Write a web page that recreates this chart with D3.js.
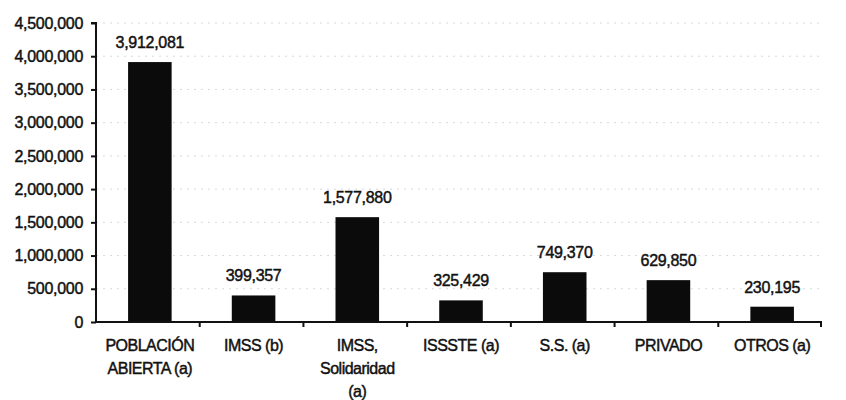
<!DOCTYPE html>
<html><head><meta charset="utf-8">
<script src="https://cdn.jsdelivr.net/npm/d3@7"></script>
<style>body{margin:0;background:#fff}svg{display:block}text{font-family:Arial,"Liberation Sans",sans-serif;fill:#111;stroke:#111;stroke-width:0.45px}</style>
</head><body>
<svg id="c" width="846" height="400"></svg>
<script>
const categories = [["POBLACIÓN","ABIERTA (a)"],["IMSS (b)"],["IMSS,","Solidaridad","(a)"],["ISSSTE (a)"],["S.S. (a)"],["PRIVADO"],["OTROS (a)"]];
const values = [3912081, 399357, 1577880, 325429, 749370, 629850, 230195];
const yTicks = [0,500000,1000000,1500000,2000000,2500000,3000000,3500000,4000000,4500000];

const svg = d3.select("#c");
const m = {l:96, r:822, t:23, b:322};
const x = d3.scaleBand().domain(d3.range(values.length)).range([m.l, m.r]).paddingInner(0.58).paddingOuter(0.29);
const xb = d3.scaleBand().domain(d3.range(values.length)).range([m.l, m.r]);
const y = d3.scaleLinear().domain([0,4500000]).range([m.b, m.t]);
const fmt = d3.format(",");

// grid
svg.append("g").selectAll("line").data(yTicks.slice(1)).join("line")
  .attr("x1", m.l).attr("x2", m.r).attr("y1", d=>y(d)).attr("y2", d=>y(d))
  .attr("stroke","#d8d8d8").attr("stroke-width",1).attr("stroke-dasharray","2,5");

// bars
svg.append("g").selectAll("rect").data(values).join("rect")
  .attr("x",(d,i)=>x(i)+2).attr("width",x.bandwidth()).attr("y",d=>y(d)).attr("height",d=>y(0)-y(d))
  .attr("fill","#0b0b0b");

// value labels
svg.append("g").selectAll("text").data(values).join("text")
  .attr("x",(d,i)=>x(i)+2+x.bandwidth()/2).attr("y",d=>y(d)-14)
  .attr("text-anchor","middle").attr("font-size",16).attr("letter-spacing","-0.3").text(d=>fmt(d));

// y axis
const ya = svg.append("g").attr("transform",`translate(${m.l},0)`)
  .call(d3.axisLeft(y).tickValues(yTicks).tickFormat(fmt).tickSize(5).tickPadding(8));
ya.select(".domain").attr("stroke","#111").attr("stroke-width",2).attr("d",`M-5,${m.t}H0V${m.b}`);
ya.selectAll(".tick line").attr("stroke","#111").attr("stroke-width",2);
ya.selectAll(".tick text").attr("font-size",16).attr("fill","#111").attr("letter-spacing","-0.3").attr("font-family","Arial,'Liberation Sans',sans-serif");

// x axis
const xa = svg.append("g").attr("transform",`translate(0,${m.b})`);
xa.append("line").attr("x1",m.l).attr("x2",m.r).attr("stroke","#111").attr("stroke-width",2);
xa.selectAll(".tk").data(d3.range(1, values.length+1)).join("line").attr("class","tk")
  .attr("x1",i=>i<values.length? xb(i): m.r-1).attr("x2",i=>i<values.length? xb(i): m.r-1)
  .attr("y1",0).attr("y2",5).attr("stroke","#111").attr("stroke-width",2);
const cl = xa.selectAll(".cl").data(categories).join("text").attr("class","cl")
  .attr("text-anchor","middle").attr("font-size",16).attr("letter-spacing","-0.5")
  .attr("transform",(d,i)=>`translate(${xb(i)+xb.bandwidth()/2+2},0)`);
cl.selectAll("tspan").data(d=>d).join("tspan").attr("x",0).attr("y",(d,j)=>29+j*23).text(d=>d);
</script>
</body></html>
